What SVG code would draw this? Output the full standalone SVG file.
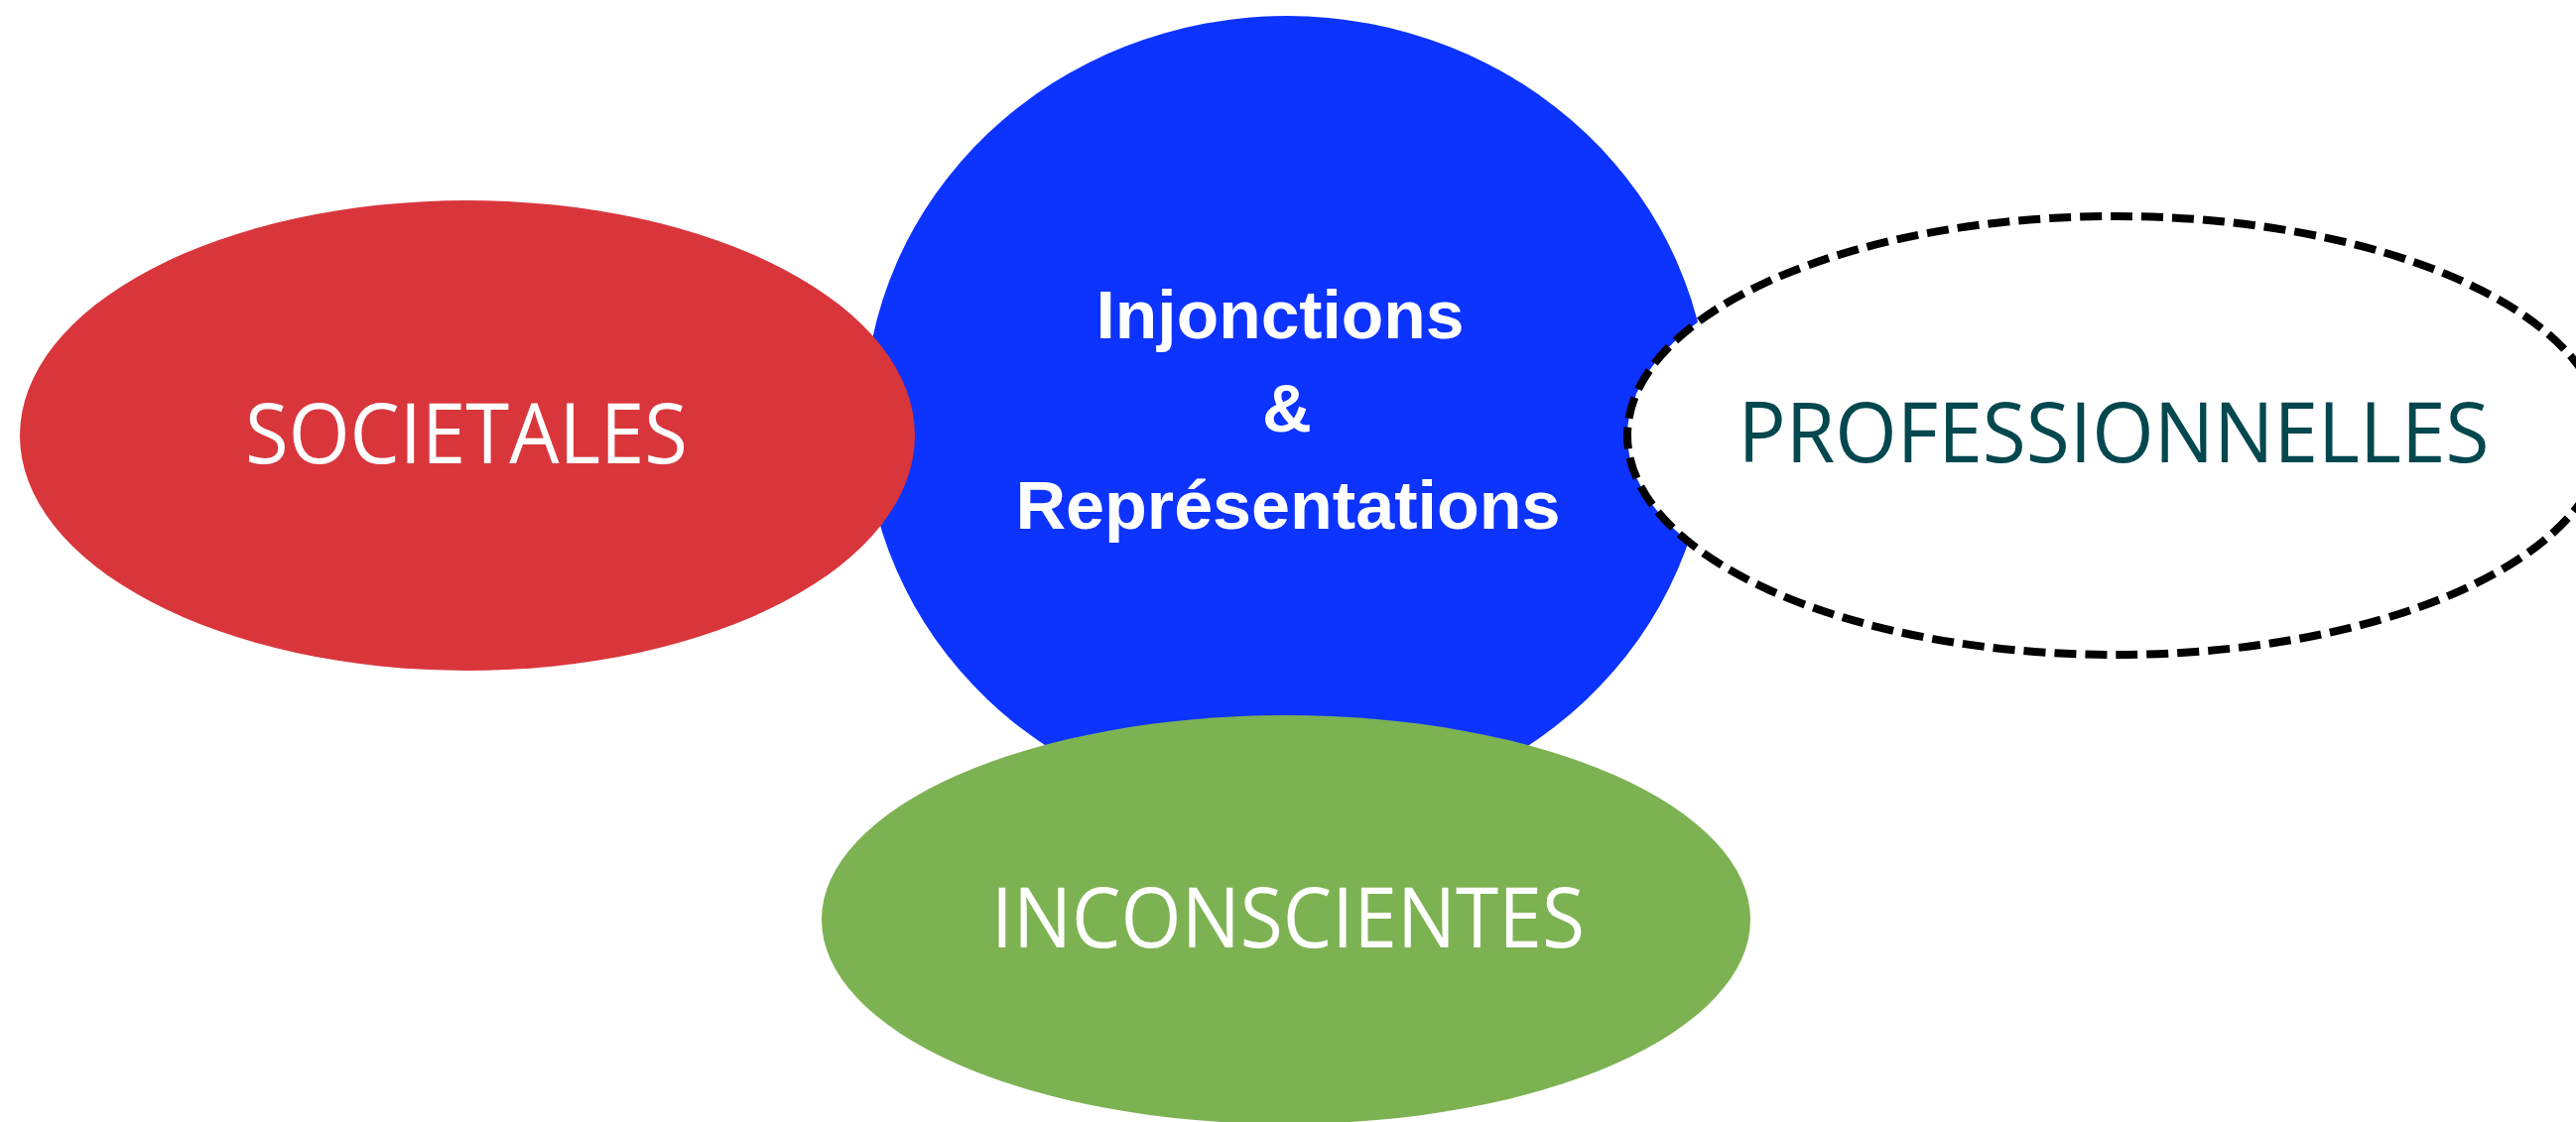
<svg xmlns="http://www.w3.org/2000/svg" width="2596" height="1131" viewBox="0 0 2596 1131">
<style>
.lbl{font-family:"Open Sans","Noto Sans","Liberation Sans",sans-serif;font-size:84px;text-anchor:middle;fill:#ffffff}
.ctr{font-family:"Liberation Sans",Arial,sans-serif;font-weight:700;font-size:69px;text-anchor:middle;fill:#ffffff}
</style>
<rect width="2596" height="1131" fill="#ffffff"/>
<g id="connectors"></g>
<g id="node-injonctions">
<ellipse cx="1297" cy="420" rx="426" ry="404" fill="#0D33FF"/>
</g>
<g id="node-societales">
<ellipse cx="471" cy="439" rx="451" ry="237" fill="#D9363C"/>
<text class="lbl" x="470" y="467" textLength="446" lengthAdjust="spacingAndGlyphs">SOCIETALES</text>
</g>
<g id="node-professionnelles">
<ellipse cx="2132" cy="439" rx="492" ry="221" fill="#ffffff" stroke="#000000" stroke-width="8" stroke-dasharray="22 9"/>
<text class="lbl" x="2130" y="466" style="fill:#03474F" textLength="757" lengthAdjust="spacingAndGlyphs">PROFESSIONNELLES</text>
</g>
<g id="node-inconscientes">
<ellipse cx="1296" cy="927" rx="468" ry="206" fill="#7DB252"/>
<text class="lbl" x="1298" y="955" textLength="598" lengthAdjust="spacingAndGlyphs">INCONSCIENTES</text>
</g>
<g id="node-center-text">
<text class="ctr" x="1290" y="341" textLength="371" lengthAdjust="spacingAndGlyphs">Injonctions</text>
<text class="ctr" x="1297" y="435">&amp;</text>
<text class="ctr" x="1298" y="533" textLength="549" lengthAdjust="spacingAndGlyphs">Représentations</text>
</g>
</svg>
